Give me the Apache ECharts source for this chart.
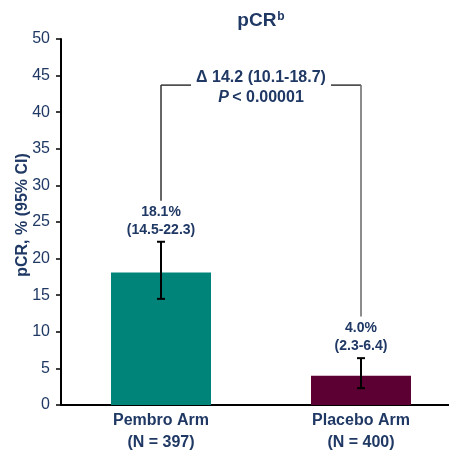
<!DOCTYPE html>
<html>
<head>
<meta charset="utf-8">
<script src="https://cdn.jsdelivr.net/npm/echarts@6/dist/echarts.min.js"></script>
<style>
html,body{margin:0;padding:0;background:#fff;}
#chart{width:449px;height:450px;}
</style>
</head>
<body>
<div id="chart"></div>
<script>
// ---- data ----
const categories = ['Pembro Arm\n(N = 397)', 'Placebo Arm\n(N = 400)'];
const pcrValues = [18.1, 4.0];
const ciLow = [14.5, 2.3];
const ciHigh = [22.3, 6.4];
const valueLabels = ['18.1%', '4.0%'];
const ciLabels = ['(14.5-22.3)', '(2.3-6.4)'];
const yMin = 0, yMax = 50, yInterval = 5;
const diffLabel = 'Δ 14.2 (10.1-18.7)';
const pLabel = '< 0.00001';
// bracket levels (in axis units)
const bracketTop = 43.7;
const bracketEnds = [27.9, 12.1];

const NAVY = '#1f3864';
const FONT = '"Liberation Sans", Arial, sans-serif';
const barColors = ['#00847a', '#5c0033'];

const chart = echarts.init(document.getElementById('chart'), null, {renderer: 'canvas'});

const option = {
  animation: false,
  backgroundColor: '#fff',
  grid: {left: 61, top: 39, height: 366, width: 400, containLabel: false, outerBoundsMode: 'none'},
  graphic: [{
    type: 'text',
    x: 261, y: 21,
    style: {
      text: '{a|pCR}{b|b}',
      align: 'center', verticalAlign: 'middle',
      rich: {
        a: {fontFamily: FONT, fontWeight: 'bold', fontSize: 19, fill: NAVY, color: NAVY},
        b: {fontFamily: FONT, fontWeight: 'bold', fontSize: 12, fill: NAVY, color: NAVY, verticalAlign: 'top', padding: [0, 0, 8, 1]}
      }
    }
  }],
  xAxis: {
    type: 'category',
    data: categories,
    axisLine: {show: true, lineStyle: {color: '#000', width: 2}},
    axisTick: {show: false},
    axisLabel: {
      color: NAVY, fontFamily: FONT, fontWeight: 'bold', fontSize: 16,
      lineHeight: 22, margin: 5, interval: 0
    },
    splitLine: {show: false}
  },
  yAxis: {
    type: 'value',
    min: yMin, max: yMax, interval: yInterval,
    name: 'pCR, % (95% CI)',
    nameLocation: 'middle',
    nameGap: 30,
    nameMoveOverlap: false,
    nameTextStyle: {color: NAVY, fontFamily: FONT, fontWeight: 'bold', fontSize: 16, padding: [0, 0, 0, 14]},
    axisLine: {show: true, lineStyle: {color: '#000', width: 2}},
    axisTick: {show: true, inside: false, length: 5, lineStyle: {color: '#000', width: 1.5}},
    axisLabel: {color: NAVY, fontFamily: FONT, fontSize: 16, margin: 11},
    splitLine: {show: false}
  },
  series: [
    {
      type: 'bar',
      barWidth: 100,
      data: pcrValues.map((v, i) => ({value: v, itemStyle: {color: barColors[i]}})),
      z: 2
    },
    {
      type: 'custom',
      z: 5,
      data: categories.map((c, i) => [i, ciLow[i], ciHigh[i]]),
      renderItem: function (params, api) {
        const i = api.value(0);
        const lo = api.coord([i, api.value(1)]);
        const hi = api.coord([i, api.value(2)]);
        const x = lo[0];
        const cap = 4;
        return {
          type: 'group',
          children: [
            {type: 'line', shape: {x1: x, y1: lo[1], x2: x, y2: hi[1]}, style: {stroke: '#000', lineWidth: 2}},
            {type: 'line', shape: {x1: x - cap, y1: lo[1], x2: x + cap, y2: lo[1]}, style: {stroke: '#000', lineWidth: 2}},
            {type: 'line', shape: {x1: x - cap, y1: hi[1], x2: x + cap, y2: hi[1]}, style: {stroke: '#000', lineWidth: 2}},
            {type: 'text', x: x, y: hi[1] - 30, style: {text: valueLabels[i], align: 'center', verticalAlign: 'middle', fontFamily: FONT, fontWeight: 'bold', fontSize: 14, fill: NAVY}},
            {type: 'text', x: x, y: hi[1] - 12, style: {text: ciLabels[i], align: 'center', verticalAlign: 'middle', fontFamily: FONT, fontWeight: 'bold', fontSize: 14, fill: NAVY}}
          ]
        };
      }
    },
    {
      type: 'custom',
      z: 5,
      data: [[0, 1, bracketTop, bracketEnds[0], bracketEnds[1]]],
      renderItem: function (params, api) {
        const l = api.coord([api.value(0), api.value(2)]);
        const r = api.coord([api.value(1), api.value(2)]);
        const lb = api.coord([api.value(0), api.value(3)]);
        const rb = api.coord([api.value(1), api.value(4)]);
        const mid = (l[0] + r[0]) / 2;
        const gap = 70;
        const st = {stroke: '#333', lineWidth: 1.5};
        return {
          type: 'group',
          children: [
            {type: 'line', shape: {x1: l[0], y1: l[1], x2: mid - gap, y2: l[1]}, style: st},
            {type: 'line', shape: {x1: mid + gap, y1: r[1], x2: r[0], y2: r[1]}, style: st},
            {type: 'line', shape: {x1: l[0], y1: l[1], x2: lb[0], y2: lb[1]}, style: st},
            {type: 'line', shape: {x1: r[0], y1: r[1], x2: rb[0], y2: rb[1]}, style: {stroke: '#666', lineWidth: 1.5}},
            {type: 'text', x: mid, y: l[1] - 8, style: {text: diffLabel, align: 'center', verticalAlign: 'middle', fontFamily: FONT, fontWeight: 'bold', fontSize: 16, fill: NAVY}},
            {type: 'text', x: mid, y: l[1] + 12, style: {
              text: '{i|P} {n|' + pLabel + '}', align: 'center', verticalAlign: 'middle',
              rich: {
                i: {fontFamily: FONT, fontWeight: 'bold', fontStyle: 'italic', fontSize: 16, fill: NAVY, color: NAVY},
                n: {fontFamily: FONT, fontWeight: 'bold', fontSize: 16, fill: NAVY, color: NAVY}
              }
            }}
          ]
        };
      }
    }
  ]
};
chart.setOption(option);
</script>
</body>
</html>
